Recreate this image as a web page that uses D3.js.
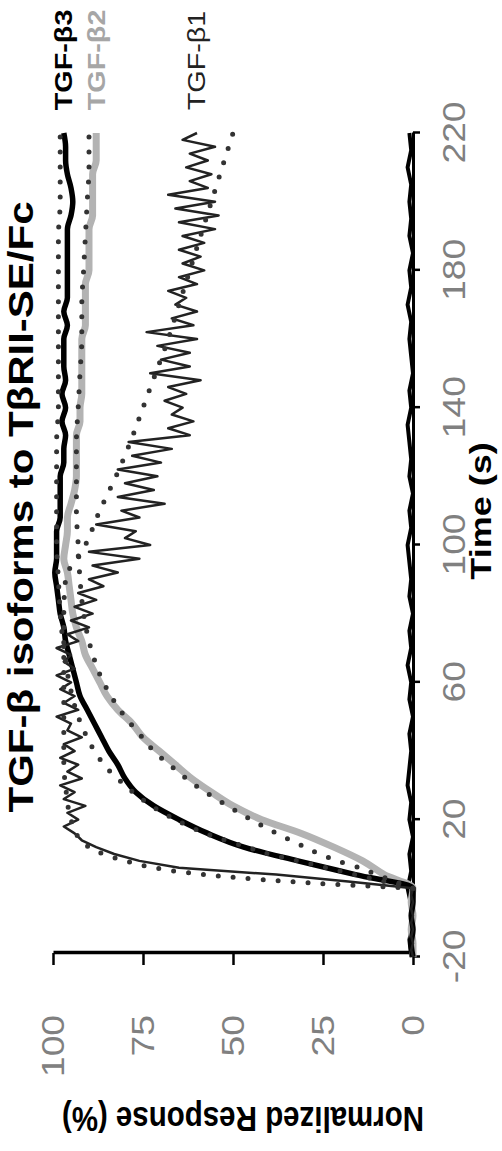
<!DOCTYPE html>
<html>
<head>
<meta charset="utf-8">
<script src="https://cdn.jsdelivr.net/npm/d3@7"></script>
<style>
  body { margin: 0; background: #fff; }
  text { font-family: "Liberation Sans", Arial, sans-serif; }
</style>
</head>
<body>
<script>
// ---- data ----
// traces start at t = -20 s
const t0 = -20;
// TGF-b1, sampled every 2 s
const beta1 = [0, 0.5, 0, 0.5, 0, 0.5, 0, 0.5, 0, 0.5,
  0, 18, 38, 65, 76, 83, 88, 92, 94, 97, 93, 96, 91, 97, 94, 98, 92, 96, 93, 98,
  94, 97, 92, 96, 95, 99, 93, 97, 94, 98, 95, 99, 94, 97, 95, 99, 93, 96, 90, 95,
  89, 94, 88, 93, 86, 90, 82, 89, 76, 90, 73, 80, 77, 88, 76, 81, 69, 82, 72, 80,
  71, 82, 70, 78, 67, 79, 62, 68, 61, 67, 64, 69, 63, 68, 59, 73, 62, 70, 62, 71,
  60, 74, 61, 67, 60, 66, 63, 68, 60, 65, 58, 64, 59, 65, 58, 64, 55, 65, 54, 66,
  55, 68, 57, 62, 56, 63, 57, 62, 55, 64, 60];
// TGF-b2 and TGF-b3, sampled every 4 s
const beta2 = [0, 0, 0.5, 0, 0.5,
  0, 8, 14, 22, 31, 42, 50, 56, 61.5, 66, 70.5, 75, 78, 82, 85, 87, 89, 91, 92, 93.5,
  94.5, 95, 95.5, 96, 97, 96.5, 96, 96, 95, 94, 93.5, 93.5, 93.5, 93.5, 92.5, 92.5,
  92, 92, 92, 92, 92, 91, 91, 91, 91, 90, 90, 90, 90, 89, 89, 89, 89, 88, 88, 88];
const beta3 = [0, 0.5, 0, 0.5, 0,
  0, 16, 32, 47, 57, 65, 72, 77, 80, 82, 84.5, 86.5, 88.5, 90.5, 92.5, 93.5, 94.5, 95.5, 96.5, 97,
  98, 98.5, 99, 99.5, 99, 99, 99, 98, 98, 98, 98, 97, 97, 96.5, 97.5, 96.5,
  97.5, 96.5, 97, 97, 97, 96, 97, 96, 96, 96, 96, 96, 96, 95, 94.5, 95, 96, 96.5, 96.5, 97];
// blank / reference trace, every 5 s
const blank = [0.5, 1, 0, 0.5, 1.5, 0.5, 1, 0, 1, 0.5, 1.5, 1, 0.5, 1, 0, 1, 0.5,
  1.5, 0.5, 1, 0, 1, 0.5, 1, 1.5, 0.5, 1, 0, 1, 0.5, 1, 1.5, 0.5, 1, 0, 0.5, 1,
  0.5, 1.5, 0.5, 1, 0, 1, 0.5, 1, 0.5, 1.5, 0.5, 1];

// model fits (dotted)
const fitTime = [0, 2, 4, 6, 8, 10, 12, 15, 20, 25, 30, 35, 40, 45, 50, 60, 70, 80,
  90, 100, 110, 120, 130, 140, 150, 160, 170, 180, 190, 200, 210, 220];
const fit1 = [0, 35, 58, 72, 80, 86, 90, 93, 95, 96, 96.5, 97, 97, 97, 97, 97, 97, 97,
  96.5, 91, 87, 82.5, 78.5, 75, 71.5, 68, 65, 62, 59, 56, 53, 50];
const fit2 = [0, 5, 10, 15, 21, 26, 30, 36, 45, 53, 60.5, 66.5, 72, 76, 80, 86, 89.5, 91.5,
  92.5, 93, 93.5, 93.5, 93.5, 93, 92.5, 92, 92, 91.5, 91, 90.5, 90, 90];
const fit3 = [0, 8, 16, 24, 32, 40, 46, 55, 66, 74, 80, 85, 88.5, 91, 93, 95.5, 97, 98,
  98.5, 99, 99, 99, 99, 98.5, 98.5, 98.5, 98.5, 98.5, 98.5, 98, 98, 98];

const timeTicks = [-20, 20, 60, 100, 140, 180, 220];
const respTicks = [0, 25, 50, 75, 100];
const seriesNames = ['TGF-\u03b23', 'TGF-\u03b22', 'TGF-\u03b21'];

// ---- chart ----
const W = 1151, H = 502;   // chart is drawn landscape, then turned a quarter left
const sx = 1.2;            // text in the picture is stretched along time axis

const svg = d3.select('body').append('svg')
    .attr('width', H)
    .attr('height', W);

const g = svg.append('g')
    .attr('transform', `translate(0,${W}) rotate(-90)`);

const x = d3.scaleLinear().domain([-20, 220]).range([194, 1018]);
const y = d3.scaleLinear().domain([0, 100]).range([413, 53]);

// axes
const yAxisG = g.append('g')
    .attr('transform', 'translate(198,0)')
    .call(d3.axisLeft(y).tickValues(respTicks).tickSize(12).tickSizeOuter(0));
yAxisG.select('.domain').attr('stroke', '#000').attr('stroke-width', 3.5);
yAxisG.selectAll('.tick line').attr('stroke', '#000').attr('stroke-width', 2.5);
yAxisG.selectAll('.tick text')
    .attr('x', -62 / sx)
    .attr('dy', '.35em')
    .attr('transform', `scale(${sx},1)`)
    .attr('fill', '#808080')
    .style('font-size', '31px');

const xAxisG = g.append('g')
    .attr('transform', 'translate(0,413)')
    .call(d3.axisBottom(x).tickValues(timeTicks).tickSize(7).tickSizeOuter(0)
        .tickFormat(d => String(d)));
xAxisG.select('.domain').attr('stroke', '#000').attr('stroke-width', 3);
xAxisG.selectAll('.tick line').attr('stroke', '#000').attr('stroke-width', 2.5);
xAxisG.selectAll('.tick text')
    .attr('y', 52)
    .attr('dy', 0)
    .attr('transform', `scale(${sx},1)`)
    .attr('fill', '#808080')
    .style('font-size', '31px');

// traces
const line = (step, curve) => d3.line()
    .x((d, i) => x(t0 + i * step))
    .y(d => y(d))
    .curve(curve);

g.append('path').datum(blank)
    .attr('d', line(5, d3.curveLinear))
    .attr('fill', 'none').attr('stroke', '#000').attr('stroke-width', 4);

g.append('path').datum(beta2)
    .attr('d', line(4, d3.curveMonotoneX))
    .attr('fill', 'none').attr('stroke', '#b3b3b3').attr('stroke-width', 7);

g.append('path').datum(beta3)
    .attr('d', line(4, d3.curveMonotoneX))
    .attr('fill', 'none').attr('stroke', '#000').attr('stroke-width', 5.5);

g.append('path').datum(beta1)
    .attr('d', line(2, d3.curveLinear))
    .attr('fill', 'none').attr('stroke', '#222').attr('stroke-width', 2.5)
    .attr('stroke-linejoin', 'round');

// dotted fits
const fitLine = d3.line()
    .x((d, i) => x(fitTime[i]))
    .y(d => y(d))
    .curve(d3.curveMonotoneX);

[fit3, fit2, fit1].forEach(f => {
    g.append('path').datum(f)
        .attr('d', fitLine)
        .attr('fill', 'none')
        .attr('stroke', '#333')
        .attr('stroke-width', 5)
        .attr('stroke-linecap', 'round')
        .attr('stroke-dasharray', '0 15');
});

// series labels at the end of each trace
const ends = [beta3[beta3.length - 1], beta2[beta2.length - 1], beta1[beta1.length - 1]];
const labelColor = ['#000', '#a6a6a6', '#222'],
    labelWeight = ['bold', 'bold', 'normal'];
seriesNames.forEach((name, i) => {
    g.append('text')
        .attr('transform', `translate(${x(226.6)},${y(ends[i])}) scale(${sx},1)`)
        .attr('dy', '.35em')
        .attr('fill', labelColor[i])
        .style('font-size', '24px')
        .style('font-weight', labelWeight[i])
        .text(name);
});

// title and axis titles
g.append('text')
    .attr('transform', `translate(644,33) scale(${sx},1)`)
    .attr('text-anchor', 'middle')
    .style('font-size', '35px')
    .style('font-weight', 'bold')
    .text('TGF-\u03b2 isoforms to T\u03b2RII-SE/Fc');

g.append('text')
    .attr('transform', `translate(640,491) scale(${sx},1)`)
    .attr('text-anchor', 'middle')
    .style('font-size', '30px')
    .style('font-weight', 'bold')
    .text('Time (s)');

g.append('text')
    .attr('transform', `translate(44,243) scale(${sx},1) rotate(-90)`)
    .attr('text-anchor', 'middle')
    .style('font-size', '29.5px')
    .style('font-weight', 'bold')
    .text('Normalized Response (%)');
</script>
</body>
</html>
